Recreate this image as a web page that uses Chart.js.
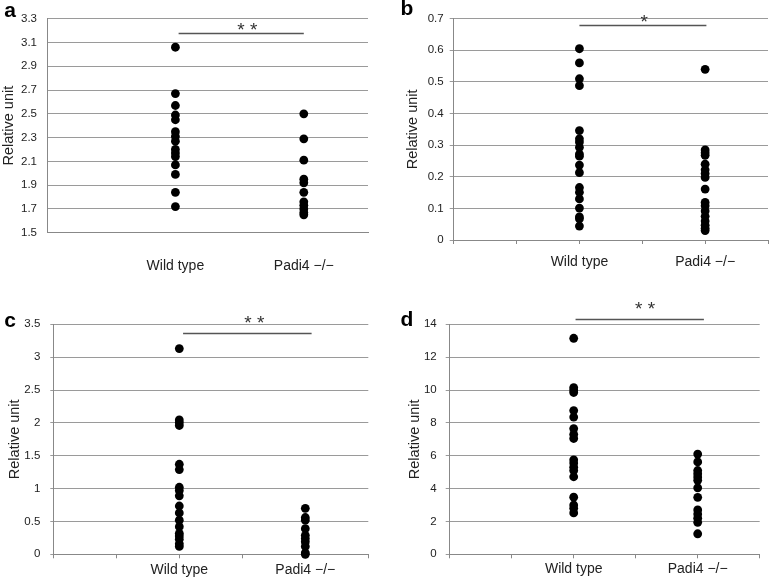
<!DOCTYPE html>
<html>
<head>
<meta charset="utf-8">
<script src="https://cdn.jsdelivr.net/npm/chart.js@4/dist/chart.umd.min.js"></script>
<style>
  body { margin: 0; background: #fff; width: 778px; height: 579px; overflow: hidden; position: relative; }
  canvas { position: absolute; }
</style>
</head>
<body>
<canvas id="pa" width="389" height="290" style="left:0;top:0"></canvas>
<canvas id="pb" width="389" height="290" style="left:389px;top:0"></canvas>
<canvas id="pc" width="389" height="289" style="left:0;top:290px"></canvas>
<canvas id="pd" width="389" height="289" style="left:389px;top:290px"></canvas>
<script>
// Group labels and their positions on the 0-5 x axis
const groupLabels = ['Wild type', 'Padi4 \u2212/\u2212'];
const groupX = [2, 4];

// Panel a
const wildA = [3.06, 2.67, 2.57, 2.49, 2.45, 2.35, 2.31, 2.27, 2.20, 2.17, 2.14, 2.07, 1.99, 1.84, 1.72];
const padiA = [2.50, 2.29, 2.11, 1.95, 1.92, 1.84, 1.76, 1.73, 1.70, 1.67, 1.65];
// Panel b
const wildB = [0.605, 0.56, 0.51, 0.488, 0.346, 0.32, 0.31, 0.293, 0.272, 0.265, 0.237, 0.213, 0.166, 0.151, 0.13, 0.101, 0.073, 0.067, 0.044];
const padiB = [0.54, 0.285, 0.276, 0.268, 0.24, 0.222, 0.21, 0.198, 0.161, 0.119, 0.108, 0.092, 0.075, 0.06, 0.047, 0.037, 0.03];
// Panel c
const wildC = [3.13, 2.045, 2.0, 1.96, 1.37, 1.29, 1.02, 0.97, 0.89, 0.735, 0.63, 0.52, 0.42, 0.32, 0.28, 0.23, 0.16, 0.12];
const padiC = [0.7, 0.56, 0.52, 0.39, 0.29, 0.24, 0.19, 0.12, 0.02, 0];
// Panel d
const wildD = [13.15, 10.15, 10.0, 9.85, 8.75, 8.35, 7.65, 7.3, 7.05, 5.75, 5.55, 5.3, 5.1, 4.72, 3.48, 3.0, 2.8, 2.52];
const padiD = [6.1, 5.62, 5.1, 4.9, 4.7, 4.5, 4.05, 3.47, 2.7, 2.45, 2.2, 1.95, 1.25];

// Axis ranges: [min, max, step]
const rangeA = [1.5, 3.3, 0.2];
const rangeB = [0, 0.7, 0.1];
const rangeC = [0, 3.5, 0.5];
const rangeD = [0, 14, 2];

// Significance marks: [text, bar y, bar from x, bar to x, star x]
const sigA = ['* *', 3.18, 2.05, 4.0, 3.12];
const sigB = ['*', 0.679, 2.0, 4.02, 3.03];
const sigC = ['* *', 3.372, 2.06, 4.1, 3.19];
const sigD = ['* *', 14.34, 2.03, 4.1, 3.15];

const FONT = '"Liberation Sans", Arial, sans-serif';

// draws the significance bar, stars and the panel letter
const decor = {
  id: 'decor',
  afterDraw(chart, args, o) {
    const {ctx} = chart;
    const x = chart.scales.x, y = chart.scales.y;
    const yb = Math.round(y.getPixelForValue(o.sig[1])) + 0.5;
    ctx.save();
    ctx.strokeStyle = '#555';
    ctx.lineWidth = 1.3;
    ctx.beginPath();
    ctx.moveTo(x.getPixelForValue(o.sig[2]), yb);
    ctx.lineTo(x.getPixelForValue(o.sig[3]), yb);
    ctx.stroke();
    ctx.fillStyle = '#333';
    ctx.font = '19px ' + FONT;
    ctx.textAlign = 'center';
    ctx.textBaseline = 'alphabetic';
    ctx.fillText(o.sig[0], x.getPixelForValue(o.sig[4]), yb + o.starDy);
    ctx.fillStyle = '#000';
    ctx.font = 'bold 21px ' + FONT;
    ctx.textBaseline = 'middle';
    ctx.fillText(o.letter, o.letterPos[0], o.letterPos[1]);
    ctx.restore();
  }
};

function makePanel(id, letter, wild, padi, range, sig, lay) {
  const h = document.getElementById(id).height;
  const pts = (arr, gx) => arr.map(v => ({x: gx, y: v}));
  new Chart(document.getElementById(id), {
    type: 'scatter',
    data: {
      datasets: [
        {data: pts(wild, groupX[0]), backgroundColor: '#000', borderWidth: 0, pointRadius: 4.4, clip: false},
        {data: pts(padi, groupX[1]), backgroundColor: '#000', borderWidth: 0, pointRadius: 4.4, clip: false}
      ]
    },
    options: {
      responsive: false,
      animation: false,
      events: [],
      layout: {padding: {top: lay.top, right: lay.right, bottom: 0, left: 0}},
      plugins: {
        legend: {display: false},
        tooltip: {enabled: false},
        decor: {sig: sig, letter: letter, letterPos: lay.letter, starDy: lay.starDy}
      },
      scales: {
        x: {
          type: 'linear', min: 0, max: 5,
          afterFit: s => { s.height = h - lay.bottom; },
          grid: {display: lay.xTicks, drawOnChartArea: false, tickLength: 4, color: '#888'},
          border: {color: '#888'},
          ticks: {
            stepSize: 1, autoSkip: false, maxRotation: 0, padding: lay.xPad,
            color: '#222', font: {family: FONT, size: 14},
            callback: v => { const i = groupX.indexOf(v); return i >= 0 ? groupLabels[i] : ''; }
          }
        },
        y: {
          min: range[0], max: range[1],
          afterFit: s => { s.width = lay.left; },
          grid: {color: '#9a9a9a', tickLength: lay.yTick, drawTicks: lay.yTick > 0},
          border: {color: '#888'},
          ticks: {
            stepSize: range[2], padding: lay.yPad, color: '#222',
            font: {family: FONT, size: 11.5},
            callback: v => String(Math.round(v * 10) / 10)
          },
          title: {
            display: true, text: 'Relative unit', color: '#222',
            font: {family: FONT, size: 14.5},
            padding: {top: lay.titlePad, bottom: 0}
          }
        }
      }
    },
    plugins: [decor]
  });
}

makePanel('pa', 'a', wildA, padiA, rangeA, sigA,
  {left: 47, top: 18.7, right: 10, bottom: 232.7, xTicks: false, xPad: 21, yTick: 0, yPad: 10, titlePad: 0, letter: [10, 11], starDy: 2.6});
makePanel('pb', 'b', wildB, padiB, rangeB, sigB,
  {left: 64.7, top: 18.7, right: 2, bottom: 240, xTicks: true, xPad: 10, yTick: 4, yPad: 6, titlePad: 15.4, letter: [18, 9], starDy: 2});
makePanel('pc', 'c', wildC, padiC, rangeC, sigC,
  {left: 53.3, top: 34.3, right: 20.7, bottom: 264.3, xTicks: true, xPad: 3, yTick: 3, yPad: 10, titlePad: 6.4, letter: [10, 31], starDy: -4.4});
makePanel('pd', 'd', wildD, padiD, rangeD, sigD,
  {left: 60.7, top: 34.3, right: 18.3, bottom: 264.3, xTicks: true, xPad: 2, yTick: 4, yPad: 9, titlePad: 17.4, letter: [18, 30], starDy: -4.4});
</script>
</body>
</html>
